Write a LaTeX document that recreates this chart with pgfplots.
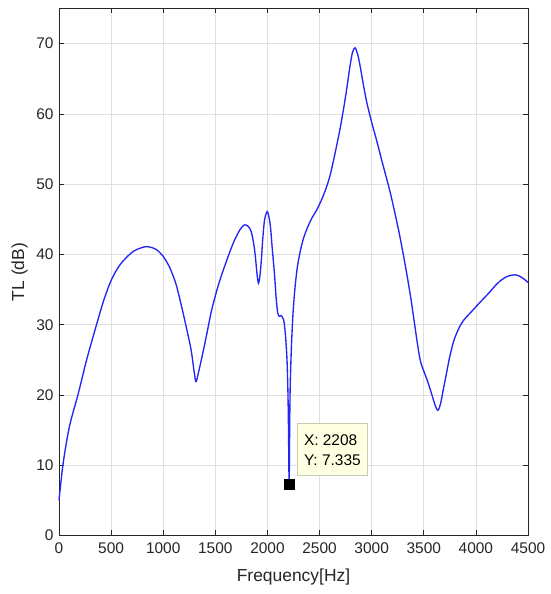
\documentclass[border=0pt]{standalone}
\usepackage{fontspec}
\setmainfont{Liberation Sans}
\usepackage{pgfplots}
\pgfplotsset{compat=1.18}
\definecolor{axc}{HTML}{262626}
\definecolor{gridc}{HTML}{DFDFDF}
\definecolor{tipbg}{HTML}{FFFFE1}
\definecolor{tipbd}{HTML}{C9C9B8}
\definecolor{linec}{HTML}{2424F5}
\begin{document}
\begin{tikzpicture}
\begin{axis}[
  scale only axis,
  width=469bp, height=527bp,
  xmin=0, xmax=4500, ymin=0, ymax=75,
  xtick={0,500,...,4500}, ytick={0,10,...,70},
  scaled x ticks=false,
  /pgf/number format/assume math mode=true,
  /pgf/number format/1000 sep={},
  tick label style={font=\fontsize{15.5}{18}\selectfont, text=axc},
  x tick label style={yshift=-4bp},
  y tick label style={xshift=-2bp},
  label style={font=\fontsize{17.5}{20}\selectfont, text=axc},
  xlabel={Frequency[Hz]},
  ylabel={TL (dB)},
  xlabel style={at={(axis description cs:0.5,-0.0787)}, anchor=center},
  ylabel style={at={(axis description cs:-0.0842,0.5)}, anchor=center},
  axis line style={axc, line width=0.8pt},
  tick style={axc, line width=0.7pt},
  major tick length=5bp,
  tick align=inside,
  xtick pos=both, ytick pos=both,
  grid=major,
  major grid style={gridc, line width=0.7pt},
  clip=false,
]
\addplot[linec, line width=1.35pt, smooth, tension=0.5] coordinates {
(0,5.0) (40,10.3) (100,15.5) (185,20.2) (265,25.0) (360,30.0) (430,33.5)
(500,36.3) (570,38.2) (636,39.4) (720,40.5) (830,41.1) (920,40.8) (991,39.9)
(1060,38.2) (1120,35.9) (1165,33.3) (1210,30.4) (1265,26.6) (1295,23.5)
(1313,21.9) (1332,22.8) (1379,25.9) (1425,29.2) (1460,31.8) (1507,34.5)
(1554,36.8) (1620,39.6) (1683,42.0) (1740,43.6) (1779,44.2) (1815,44.0)
(1843,43.3) (1865,41.8) (1882,40.0) (1900,37.2) (1914,35.9) (1928,37.0)
(1940,38.9) (1955,42.2) (1972,44.9) (1997,46.1) (2012,45.5) (2029,43.9)
(2048,40.5) (2067,37.3) (2085,33.5) (2100,31.6) (2115,31.2) (2131,31.3)
(2150,30.9) (2163,30.0) (2178,27.5) (2189,24.5) (2197,20.0) (2202,15.0)
(2208,7.335) (2213,15.0) (2218,21.0) (2230,26.9) (2245,31.5) (2262,34.9)
(2285,38.0) (2310,40.1) (2340,42.0) (2375,43.5) (2420,45.0) (2471,46.3)
(2520,47.8) (2567,49.6) (2600,51.2) (2630,53.1) (2660,55.2) (2697,57.9)
(2730,60.7) (2760,63.5) (2790,66.6) (2815,68.7) (2840,69.4) (2865,68.5)
(2888,66.9) (2920,64.2) (2952,61.7) (3000,58.8) (3048,56.2) (3100,53.2)
(3175,49.0) (3230,45.4) (3270,42.6) (3323,38.4) (3370,34.3) (3403,31.0)
(3440,27.2) (3468,24.8) (3500,23.4) (3533,22.1) (3570,20.4) (3610,18.5)
(3635,17.8) (3660,18.7) (3685,20.6) (3709,22.4) (3750,25.5) (3790,27.8)
(3840,29.6) (3886,30.7) (3960,31.9) (4047,33.3) (4130,34.6) (4208,35.9)
(4290,36.8) (4369,37.1) (4420,36.9) (4470,36.4) (4500,36.0)
};
\addplot[only marks, mark=square*, mark size=5bp, mark options={fill=black, draw=black}] coordinates {(2208,7.335)};
\node[anchor=south west, draw=tipbd, fill=tipbg, line width=0.6pt,
      minimum width=70bp, minimum height=52bp, inner xsep=4.5bp,
      align=left, font=\fontsize{15.5}{20}\selectfont, text=black]
  at (axis cs:2284,8.46) {X: 2208\\Y: 7.335};
\end{axis}
\path (current axis.south west) ++(-59bp,-58.5bp) coordinate (bl);
\path (current axis.north east) ++(22bp,8.5bp) coordinate (tr);
\path[use as bounding box] (bl) rectangle (tr);
\end{tikzpicture}
\end{document}
